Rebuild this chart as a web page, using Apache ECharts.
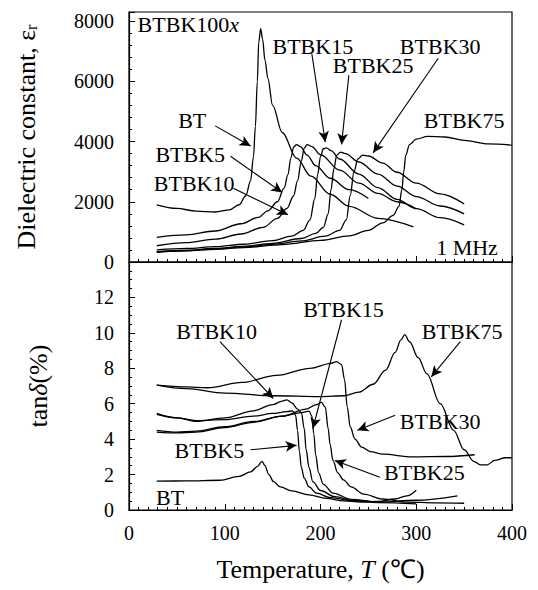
<!DOCTYPE html>
<html><head><meta charset="utf-8">
<script src="https://cdn.jsdelivr.net/npm/echarts@6/dist/echarts.min.js"></script>
<style>html,body{margin:0;padding:0;background:#fff}#c{width:538px;height:590px}</style>
</head><body><div id="c"></div>
<script>
// ---- x axis ----
const xTicks = [0, 100, 200, 300, 400];
// ---- dielectric constant (top) [T, eps] ----
const epsBT = [[29,1900],[50,1780],[70,1690],[90,1660],[105,1730],[115,1900],[122,2200],[127,2700],[130,3500],[132,4500],[134,6000],[135.5,7300],[137.5,7750],[139.5,7400],[142,6700],[145,6100],[150,5200],[160,4300],[175,3450],[190,2850],[210,2250],[230,1850],[260,1450],[297,1165]];
const epsBTBK5 = [[29,820],[60,900],[90,1030],[117,1270],[135,1480],[145,1700],[155,2000],[162,2450],[166,2900],[169,3450],[172,3820],[175,3900],[179,3830],[186,3550],[195,3200],[210,2780],[230,2400],[250,2110]];
const epsBTBK10 = [[29,540],[60,640],[90,760],[117,930],[140,1150],[155,1450],[165,1780],[172,2200],[176,2700],[180,3350],[183,3780],[186,3900],[191,3830],[200,3560],[220,3050],[240,2620],[260,2280],[280,2000],[300,1765]];
const epsBTBK15 = [[29,400],[60,450],[90,510],[120,590],[150,710],[170,860],[182,1050],[189,1400],[194,2100],[197,2900],[200,3500],[203,3760],[206,3790],[211,3700],[220,3420],[240,2920],[260,2470],[280,2080],[300,1770],[325,1470],[350,1230]];
const epsBTBK25 = [[29,340],[60,390],[90,450],[120,520],[150,620],[180,780],[195,950],[203,1150],[208,1600],[211,2400],[214,3100],[217,3550],[221,3650],[226,3600],[240,3320],[260,2920],[280,2520],[300,2170],[325,1860],[350,1600]];
const epsBTBK30 = [[29,330],[60,380],[90,440],[120,500],[150,590],[180,700],[205,860],[220,1050],[227,1400],[231,2200],[235,3000],[239,3420],[244,3545],[250,3520],[265,3280],[280,2980],[300,2620],[325,2260],[350,1930]];
const epsBTBK75 = [[29,330],[60,370],[90,420],[120,480],[160,580],[200,720],[230,870],[250,1050],[265,1300],[276,1550],[282,1850],[285,2400],[287,3000],[289,3550],[293,3900],[300,4080],[312,4170],[330,4150],[350,4040],[375,3920],[400,3880]];
// ---- tan delta (bottom) [T, %] ----
const tanBT = [[29,1.63],[60,1.64],[95,1.68],[115,1.9],[127,2.15],[134,2.45],[139,2.75],[142,2.5],[146,2.0],[151,1.6],[158,1.3],[170,1.08],[188,0.85],[206,0.66],[224,0.52],[242,0.45],[260,0.48],[278,0.62],[290,0.8],[300,1.12]];
const tanBTBK5 = [[29,5.4],[50,5.2],[70,5.05],[100,5.1],[130,5.3],[150,5.45],[165,5.55],[171,5.6],[174,5.35],[176,4.5],[178,3.3],[180,2.4],[183,1.8],[188,1.3],[196,0.95],[210,0.7],[230,0.55],[250,0.5]];
const tanBTBK10 = [[29,5.45],[50,5.2],[70,5.0],[100,5.2],[130,5.6],[150,5.95],[160,6.15],[165,6.22],[170,6.05],[176,5.7],[180,5.5],[183,4.6],[185,3.4],[188,2.4],[192,1.6],[200,1.1],[215,0.75],[235,0.52],[260,0.42],[300,0.35]];
const tanBTBK15 = [[29,4.5],[50,4.4],[70,4.45],[100,4.7],[130,5.0],[160,5.3],[180,5.5],[188,5.58],[191,5.3],[193,4.3],[195,3.1],[198,2.1],[203,1.45],[213,0.95],[232,0.6],[260,0.45],[300,0.55],[343,0.8]];
const tanBTBK25 = [[29,4.4],[50,4.35],[70,4.4],[100,4.65],[130,4.95],[160,5.3],[185,5.7],[196,5.95],[201,6.08],[205,5.8],[208,4.6],[210,3.7],[213,2.8],[218,2.1],[224,1.7],[232,1.3],[245,0.9],[265,0.62],[290,0.45],[320,0.4],[350,0.38]];
const tanBTBK30 = [[29,7.05],[60,6.95],[82,6.9],[118,7.2],[154,7.6],[189,8.0],[211,8.28],[217,8.38],[222,8.2],[225,7.4],[228,5.8],[231,4.7],[236,4.0],[243,3.55],[252,3.3],[265,3.15],[296,3.0],[332,3.02],[361,3.12]];
const tanBTBK75 = [[29,7.05],[60,6.85],[100,6.6],[150,6.45],[200,6.4],[225,6.45],[240,6.65],[255,7.1],[268,7.9],[278,8.9],[284,9.6],[288,9.9],[293,9.5],[302,8.6],[311,7.7],[325,6.0],[339,4.5],[350,3.4],[360,2.75],[367,2.55],[374,2.55],[382,2.8],[393,2.95],[400,2.95]];
// ---- annotations: [text, T, value, align] and arrows [T1, v1, T2, v2] ----
const topLabels = [["{t|BTBK100}{ti|x}",9,7888,"left"],["{t|BT}",66,4690],["{t|BTBK5}",64,3570],["{t|BTBK10}",68,2615],["{t|BTBK15}",192,7160],["{t|BTBK25}",255,6540],["{t|BTBK30}",325,7160],["{t|BTBK75}",350,4690],["{t|1 MHz}",353,480]];
const topArrows = [[90,4520,127,3850],[106,3510,160,2310],[109,2446,166,1570],[191,6900,205,3980],[229.6,6205,222,3905],[323,6766,255,3624]];
const botLabels = [["{t|BTBK10}",91.5,10.08],["{t|BTBK15}",224,11.3],["{t|BTBK75}",348,10.08],["{t|BTBK30}",325,4.97],["{t|BTBK5}",84,3.36],["{t|BTBK25}",308.5,2.14],["{t|BT}",43,0.72]];
const botArrows = [[95,9.5,150.7,6.3],[222,10.74,192,4.6],[346,9.5,315.7,7.52],[278,5.35,238.6,4.5],[127,3.4,175,3.65],[262,1.85,215,2.8]];

const FONT = "Liberation Serif";
const chart = echarts.init(document.getElementById('c'), null, {renderer:'svg'});
function ts(size, extra){ return Object.assign({color:'#000', fontSize:size, fontFamily:FONT, fontWeight:'normal', fontStyle:'normal'}, extra||{}); }
const labelRich = {t:ts(22), ti:ts(22,{fontStyle:'italic'})};
function mkLabels(arr){
  return arr.map(a => ({coord:[a[1],a[2]], symbolSize:0, label:Object.assign(ts(22), {show:true, formatter:a[0], position:'inside', align:a[3]||'center', verticalAlign:'middle', rich:labelRich})}));
}
function mkArrows(arr){
  return arr.map(a => [{coord:[a[0],a[1]]},{coord:[a[2],a[3]]}]);
}
const lineStyle = {color:'#000', width:1.3};
function ser(data, gi, extra){
  return Object.assign({type:'line', xAxisIndex:gi, yAxisIndex:gi, data:data, showSymbol:false, symbol:'none', smooth:0.35, smoothMonotone:'x', lineStyle:lineStyle, silent:true, animation:false, z:3}, extra||{});
}
const annot = (labels, arrows) => ({
  markPoint:{symbol:'circle', symbolSize:0, data:mkLabels(labels), silent:true, animation:false},
  markLine:{symbol:['none','arrow'], symbolSize:[8,11], silent:true, animation:false, label:{show:false}, lineStyle:{color:'#000', width:1.1, type:'solid'}, data:mkArrows(arrows)}
});
const tickStyle = {color:'#000', width:1};
const tickRich = {t:ts(20)};
function xAx(gi, showLabels){
  const ax = {gridIndex:gi, type:'value', min:0, max:400, interval:100,
    axisLine:{show:true, lineStyle:{color:'#000', width:1.2}},
    axisTick:{show:true, inside:true, length:6, lineStyle:tickStyle},
    minorTick:{show:true, splitNumber:10, length:3, lineStyle:tickStyle},
    splitLine:{show:false},
    axisLabel:Object.assign(ts(20), {show:showLabels, margin:13, rich:tickRich, formatter:v=>xTicks.includes(v)?'{t|'+v+'}':''})};
  if (showLabels) {
    ax.name = '{n|Temperature, }{ni|T}{n| (℃)}'; ax.nameLocation = 'middle'; ax.nameGap = 46;
    ax.nameTextStyle = Object.assign(ts(26), {rich:{n:ts(26), ni:ts(26,{fontStyle:'italic'})}});
  }
  return ax;
}
function yAx(gi, max, interval, minorSplit, name, rich, gap){
  return {gridIndex:gi, type:'value', min:0, max:max, interval:interval,
    axisLine:{show:true, lineStyle:{color:'#000', width:1.2}},
    axisTick:{show:true, inside:true, length:6, lineStyle:tickStyle},
    minorTick:{show:true, splitNumber:minorSplit, length:3, lineStyle:tickStyle},
    splitLine:{show:false},
    axisLabel:Object.assign(ts(20), {showMaxLabel:false, margin:15, rich:tickRich, formatter:v=>'{t|'+v+'}'}),
    name:name, nameLocation:'middle', nameGap:gap,
    nameTextStyle:Object.assign(ts(26), {rich:rich})};
}
const option = {
  backgroundColor:'#fff',
  animation:false,
  textStyle:{fontFamily:FONT, color:'#000'},
  grid:[
    {left:129, right:26, top:12, height:250, show:true, borderColor:'#000', borderWidth:1.2},
    {left:129, right:26, top:262, height:248, show:true, borderColor:'#000', borderWidth:1.2}
  ],
  xAxis:[ xAx(0,false), xAx(1,true) ],
  yAxis:[
    yAx(0, 8300, 2000, 5, '{n|Dielectric constant, ε}{s|r}', {n:ts(26), s:ts(16,{verticalAlign:'bottom'})}, 90),
    yAx(1, 14, 2, 4, '{n|tan}{ni|δ}{n|(%)}', {n:ts(26), ni:ts(26,{fontStyle:'italic'})}, 78)
  ],
  series:[
    ser(epsBT,0, annot(topLabels, topArrows)),
    ser(epsBTBK5,0), ser(epsBTBK10,0), ser(epsBTBK15,0), ser(epsBTBK25,0), ser(epsBTBK30,0), ser(epsBTBK75,0),
    ser(tanBT,1, annot(botLabels, botArrows)),
    ser(tanBTBK5,1), ser(tanBTBK10,1), ser(tanBTBK15,1), ser(tanBTBK25,1), ser(tanBTBK30,1), ser(tanBTBK75,1)
  ]
};
chart.setOption(option);
</script></body></html>
